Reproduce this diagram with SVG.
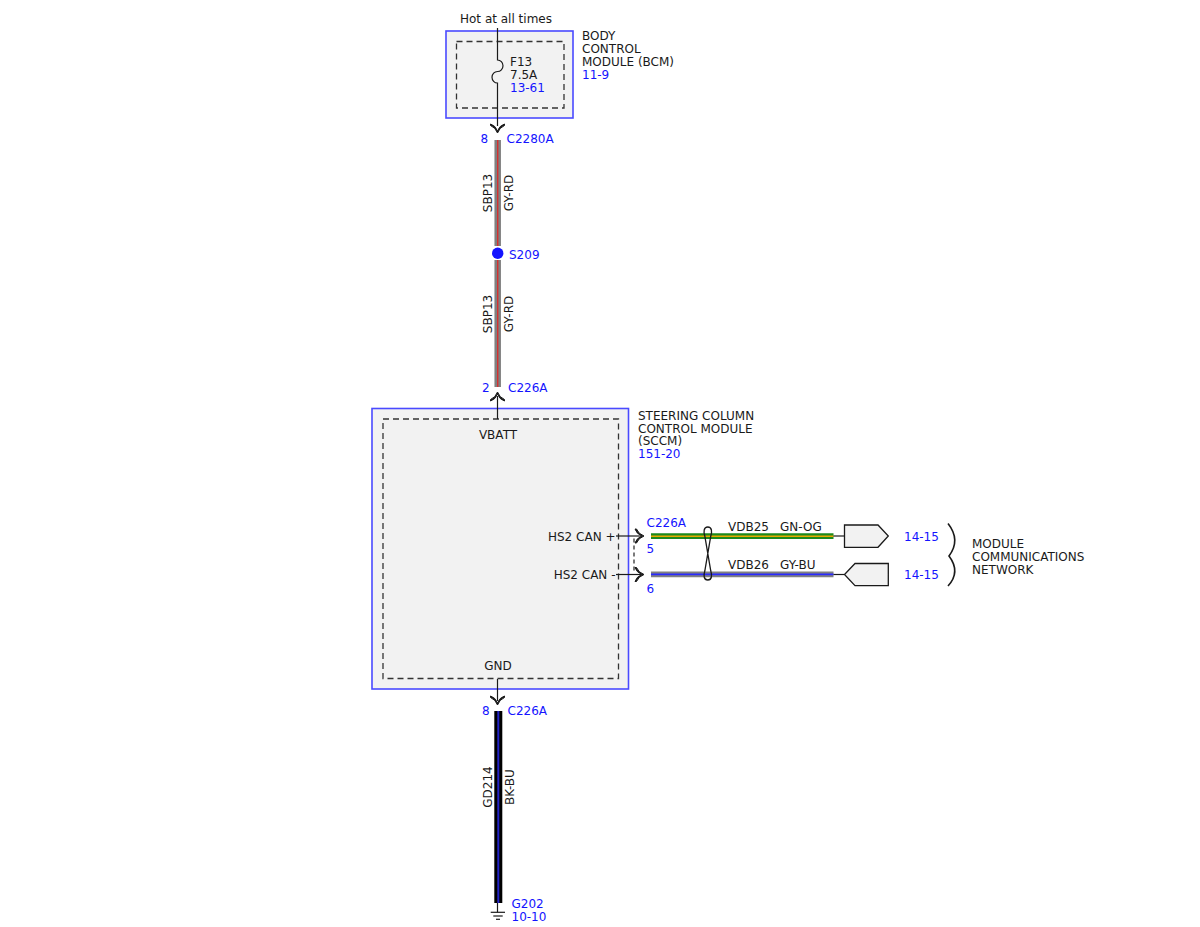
<svg xmlns="http://www.w3.org/2000/svg" width="1200" height="927" viewBox="0 0 1200 927">
<style>
text{font-family:"DejaVu Sans",Verdana,sans-serif;font-size:12px;fill:#1a1a1a}
.b{fill:#1414ff}
.mod{fill:#f2f2f2;stroke:#4a4aff;stroke-width:1.6}
.dash{fill:none;stroke:#333;stroke-width:1.3;stroke-dasharray:6 4}
.thin{fill:none;stroke:#1a1a1a;stroke-width:1.2}
.chev{fill:#1a1a1a;stroke:#1a1a1a;stroke-width:1;stroke-linejoin:round}
.conn{fill:#f2f2f2;stroke:#1a1a1a;stroke-width:1.3}
</style>
<defs>
<path id="chd" d="M-7 -6 Q-2 -4.5 0 1 Q2 -4.5 7 -6 L7 -4.5 Q2 -2.5 0 3 Q-2 -2.5 -7 -4.5 Z"/>
</defs>
<rect width="1200" height="927" fill="#fff"/>
<g id="bcm">
<rect class="mod" x="446" y="31" width="127" height="87"/>
<rect class="dash" x="456.5" y="41.5" width="107.5" height="66.5"/>
<text x="582" y="40">BODY</text>
<text x="582" y="53">CONTROL</text>
<text x="582" y="66">MODULE (BCM)</text>
<text x="582" y="79" class="b">11-9</text>
</g>
<g id="fuse">
<text x="460" y="23">Hot at all times</text>
<path class="thin" d="M497.5 28 V60 A5.5 5.75 0 0 1 497.5 71.5 A5.5 5.75 0 0 0 497.5 83 V126"/>
<text x="510" y="66">F13</text>
<text x="510" y="79">7.5A</text>
<text x="510" y="92" class="b">13-61</text>
</g>
<g id="sccm">
<rect class="mod" x="372" y="408.5" width="256.5" height="280.5"/>
<rect class="dash" x="383" y="419" width="235.5" height="259.5"/>
<text x="498" y="438.5" text-anchor="middle">VBATT</text>
<text x="498" y="670" text-anchor="middle">GND</text>
<text x="615.5" y="541" text-anchor="end">HS2 CAN +</text>
<text x="615.5" y="579" text-anchor="end">HS2 CAN -</text>
<text x="638" y="420">STEERING COLUMN</text>
<text x="638" y="432.5">CONTROL MODULE</text>
<text x="638" y="445">(SCCM)</text>
<text x="638" y="458" class="b">151-20</text>
</g>
<g id="s209">
<circle cx="497.7" cy="253.3" r="5.7" fill="#1414ff"/>
<text x="509" y="258.5" class="b">S209</text>
</g>
<g id="g202">
<line class="thin" x1="497.5" y1="902" x2="497.5" y2="912.3"/>
<line class="thin" x1="490.7" y1="912.3" x2="505" y2="912.3"/>
<line class="thin" x1="493.3" y1="916" x2="502.7" y2="916"/>
<line class="thin" x1="496" y1="919.3" x2="500" y2="919.3"/>
<text x="511.5" y="908" class="b">G202</text>
<text x="511.5" y="920.5" class="b">10-10</text>
</g>
<g id="mcn">
<path class="conn" d="M844.5 525 H878 L888.3 536 L878 547.3 H844.5 Z"/>
<path class="conn" d="M888.3 563.5 H855 L844.5 574.5 L855 585.7 H888.3 Z"/>
<text x="904" y="541" class="b">14-15</text>
<text x="904" y="578.5" class="b">14-15</text>
<path d="M948 523.5 Q961 540 949 556 Q961 572 948 586" fill="none" stroke="#1a1a1a" stroke-width="1.6"/>
<text x="972" y="547.5">MODULE</text>
<text x="972" y="560.5">COMMUNICATIONS</text>
<text x="972" y="573.5">NETWORK</text>
</g>
<g id="connectors">
<!-- C2280A pin 8 -->
<use href="#chd" class="chev" transform="translate(497.5 130)"/>
<text x="480.5" y="142.5" class="b">8</text>
<text x="506.5" y="142.5" class="b">C2280A</text>
<!-- SBP13 upper -->
<line x1="497.7" y1="140" x2="497.7" y2="246" stroke="#808080" stroke-width="6.5"/>
<line x1="497.7" y1="140" x2="497.7" y2="246" stroke="#d63030" stroke-width="1.4"/>
<text transform="translate(491.5 193) rotate(-90)" text-anchor="middle">SBP13</text>
<text transform="translate(513 193) rotate(-90)" text-anchor="middle">GY-RD</text>
<!-- SBP13 lower -->
<line x1="497.7" y1="260" x2="497.7" y2="387" stroke="#808080" stroke-width="6.5"/>
<line x1="497.7" y1="260" x2="497.7" y2="387" stroke="#d63030" stroke-width="1.4"/>
<text transform="translate(491.5 314) rotate(-90)" text-anchor="middle">SBP13</text>
<text transform="translate(513 314) rotate(-90)" text-anchor="middle">GY-RD</text>
<!-- C226A pin 2 -->
<text x="482" y="392" class="b">2</text>
<text x="508" y="392" class="b">C226A</text>
<line class="thin" x1="497.5" y1="396" x2="497.5" y2="419"/>
<use href="#chd" class="chev" transform="translate(497.5 395) rotate(180)"/>
<!-- GND pin 8 -->
<line class="thin" x1="497.5" y1="679" x2="497.5" y2="701"/>
<use href="#chd" class="chev" transform="translate(497.5 702)"/>
<text x="482" y="714.5" class="b">8</text>
<text x="507.5" y="714.5" class="b">C226A</text>
<line x1="498.3" y1="711" x2="498.3" y2="903" stroke="#000" stroke-width="8"/>
<line x1="498.3" y1="711" x2="498.3" y2="903" stroke="#2424c8" stroke-width="2"/>
<text transform="translate(492 787) rotate(-90)" text-anchor="middle">GD214</text>
<text transform="translate(514 787) rotate(-90)" text-anchor="middle">BK-BU</text>
<!-- HS2 CAN + -->
<line class="thin" x1="616" y1="536" x2="641" y2="536"/>
<use href="#chd" class="chev" transform="translate(641 536) rotate(-90)"/>
<line class="thin" x1="616" y1="574.5" x2="641" y2="574.5"/>
<use href="#chd" class="chev" transform="translate(641 574.5) rotate(-90)"/>
<line x1="634" y1="538.5" x2="634" y2="572" stroke="#333" stroke-width="1.3" stroke-dasharray="4 3"/>
<text x="646.5" y="527" class="b">C226A</text>
<text x="646.5" y="553" class="b">5</text>
<text x="646.5" y="593" class="b">6</text>
<line x1="651" y1="536.2" x2="833.5" y2="536.2" stroke="#1c8a1c" stroke-width="5.8"/>
<line x1="651" y1="536.2" x2="833.5" y2="536.2" stroke="#e8a800" stroke-width="1.6"/>
<line x1="651" y1="574.4" x2="833.5" y2="574.4" stroke="#808080" stroke-width="5.8"/>
<line x1="651" y1="574.4" x2="833.5" y2="574.4" stroke="#2a2aff" stroke-width="1.6"/>
<line class="thin" x1="833.5" y1="536" x2="844.5" y2="536"/>
<line class="thin" x1="833.5" y1="574.5" x2="844.5" y2="574.5"/>
<path d="M707.8 527 C703.5 527 703.5 532 704.8 536 L710.8 571 C712.1 575 712.1 580 707.8 580 C703.5 580 703.5 575 704.8 571 L710.8 536 C712.1 532 712.1 527 707.8 527 Z" fill="none" stroke="#1a1a1a" stroke-width="1.3"/>
<text x="728" y="531">VDB25</text>
<text x="780" y="531">GN-OG</text>
<text x="728" y="568.5">VDB26</text>
<text x="780" y="568.5">GY-BU</text>
</g>
</svg>
